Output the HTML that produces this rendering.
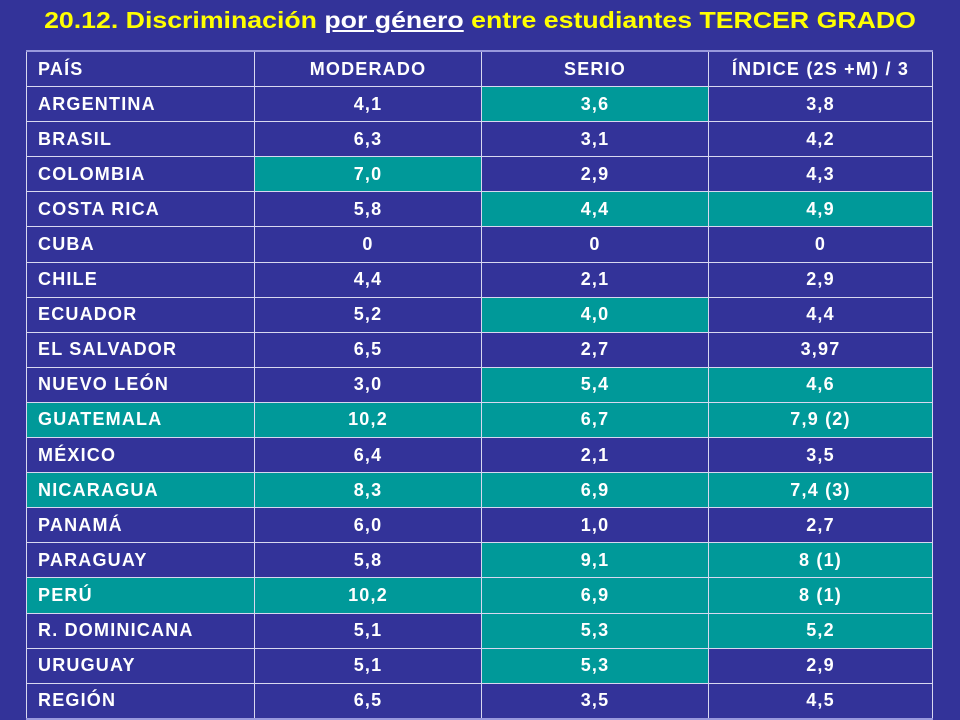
<!DOCTYPE html>
<html><head><meta charset="utf-8"><style>
body{margin:0;width:960px;height:720px;background:#333399;overflow:hidden;font-family:"Liberation Sans",Arial,sans-serif;position:relative}
#title{position:absolute;top:7px;left:0;width:960px;text-align:center;color:#ffff00;font-weight:bold;font-size:23px;white-space:nowrap;transform:scaleX(1.16);transform-origin:480px 0}
#title u{color:#fff}
table{position:absolute;left:26px;top:50px;border-collapse:collapse;width:907px}
td{border:1.5px solid #d8d8f0;height:34.1px;padding:0;color:#fff;font-weight:bold;font-size:18px;letter-spacing:1.2px;text-align:center}
td:first-child{text-align:left;padding-left:11px;width:216px}
td:nth-child(2),td:nth-child(3){width:226px}
tr:first-child td{border-top:2px solid #9999dd}
tr:last-child td{border-bottom:2px solid #9999dd}
.t{background:#009999}
</style></head><body>
<div id="title">20.12. Discriminación <u>por género</u> entre estudiantes TERCER GRADO</div>
<table><tbody id="tb"></tbody></table>
<script>
const header=["PAÍS","MODERADO","SERIO","ÍNDICE (2S +M) / 3"];
const rows=[
["ARGENTINA","4,1","3,6","3,8"],["BRASIL","6,3","3,1","4,2"],["COLOMBIA","7,0","2,9","4,3"],
["COSTA RICA","5,8","4,4","4,9"],["CUBA","0","0","0"],["CHILE","4,4","2,1","2,9"],
["ECUADOR","5,2","4,0","4,4"],["EL SALVADOR","6,5","2,7","3,97"],["NUEVO LEÓN","3,0","5,4","4,6"],
["GUATEMALA","10,2","6,7","7,9 (2)"],["MÉXICO","6,4","2,1","3,5"],["NICARAGUA","8,3","6,9","7,4 (3)"],
["PANAMÁ","6,0","1,0","2,7"],["PARAGUAY","5,8","9,1","8 (1)"],["PERÚ","10,2","6,9","8 (1)"],
["R. DOMINICANA","5,1","5,3","5,2"],["URUGUAY","5,1","5,3","2,9"],["REGIÓN","6,5","3,5","4,5"]];
const hl=[[0,0,1,0],[0,0,0,0],[0,1,0,0],[0,0,1,1],[0,0,0,0],[0,0,0,0],[0,0,1,0],[0,0,0,0],[0,0,1,1],
[1,1,1,1],[0,0,0,0],[1,1,1,1],[0,0,0,0],[0,0,1,1],[1,1,1,1],[0,0,1,1],[0,0,1,0],[0,0,0,0]];
const tb=document.getElementById('tb');
function addRow(cells,h,name){const tr=document.createElement('tr');


cells.forEach((c,i)=>{const td=document.createElement('td');td.textContent=c;if(h&&h[i])td.className='t';


tr.appendChild(td);});tb.appendChild(tr);}
addRow(header,null,'header-row');
rows.forEach((r,i)=>addRow(r,hl[i],'row-'+r[0].toLowerCase().replace(/[^a-z]+/g,'-')));
</script>
</body></html>
